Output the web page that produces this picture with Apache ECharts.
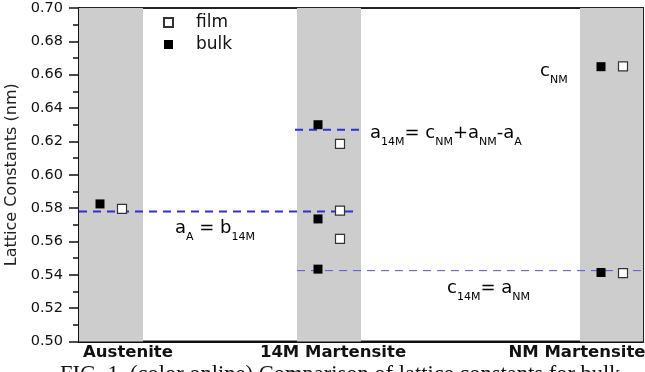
<!DOCTYPE html>
<html>
<head>
<meta charset="utf-8">
<script src="https://cdn.jsdelivr.net/npm/echarts@6/dist/echarts.min.js"></script>
<style>
  html, body { margin: 0; padding: 0; background: #fff; }
  #chart { width: 645px; height: 372px; }
</style>
</head>
<body>
<div id="chart"></div>
<script>
// Phases along the horizontal axis and where each sits on the x scale
const phases = ['Austenite', '14M Martensite', 'NM Martensite'];
const phaseCenter = [1.6, 12.5, 26.65];
const phaseLabelX = [2.45, 12.7, 24.9];

// Lattice constants (nm) per phase
const bulkValues = [[0.5825], [0.630, 0.5735, 0.5434], [0.6648, 0.5414]];
const filmValues = [[0.5795], [0.6185, 0.5785, 0.5616], [0.665, 0.541]];

// Reference relations drawn as dashed lines: [value, xStart, xEnd]
const relationLines = [
  [0.578, 0, 13.95],
  [0.627, 10.8, 14.2],
  [0.5425, 10.9, 28.2]
];

const yTicks = { min: 0.50, max: 0.70, step: 0.02 };

const SIDE_OFFSET = 0.55;   // bulk left of the phase centre, film right
const BAND_HALF = 1.6;      // half width of the grey phase bands
const X_MAX = 28.2;

const bulkData = [];
const filmData = [];
phases.forEach((p, i) => {
  bulkValues[i].forEach(v => bulkData.push([phaseCenter[i] - SIDE_OFFSET, v]));
  filmValues[i].forEach(v => filmData.push([phaseCenter[i] + SIDE_OFFSET, v]));
});

const bands = phaseCenter.map(c => [
  { xAxis: Math.max(0, c - BAND_HALF) },
  { xAxis: Math.min(X_MAX, c + BAND_HALF) }
]);

const lineStyles = [
  { color: '#2f2fd6', width: 2, type: [8, 6] },
  { color: '#2f2fd6', width: 2, type: [8, 6] },
  { color: '#5252ee', width: 1, type: [8, 6] }
];

const relationSeries = relationLines.map((r, i) => ({
  type: 'line',
  name: 'rel' + i,
  data: [[r[1], r[0]], [r[2], r[0]]],
  symbol: 'none',
  lineStyle: lineStyles[i],
  z: 3,
  silent: true
}));

const FONT = 'DejaVu Sans';
const rich = {
  m: { fontFamily: FONT, fontSize: 18, color: '#1a1a1a', verticalAlign: 'top', lineHeight: 24 },
  s: { fontFamily: FONT, fontSize: 11, color: '#1a1a1a', verticalAlign: 'bottom', lineHeight: 24 }
};
function note(left, top, text) {
  return { type: 'text', left: left, top: top, z: 10, style: { text: text, rich: rich } };
}

const chart = echarts.init(document.getElementById('chart'), null, { renderer: 'canvas' });
chart.setOption({
  animation: false,
  backgroundColor: '#ffffff',
  grid: {
    left: 79, right: 2, top: 8, bottom: 30.5,
    outerBoundsMode: 'none', containLabel: false,
    show: true, borderColor: '#222', borderWidth: 2, backgroundColor: 'transparent'
  },
  legend: {
    data: ['film', 'bulk'],
    orient: 'vertical',
    left: 158, top: 9,
    itemWidth: 9, itemHeight: 9, itemGap: 5,
    textStyle: { fontFamily: FONT, fontSize: 17, color: '#111', lineHeight: 16, padding: [0, 0, 0, 18] }
  },
  xAxis: {
    type: 'value', min: 0, max: X_MAX,
    splitLine: { show: false },
    axisLine: { lineStyle: { color: '#111', width: 2 } },
    axisTick: { show: false },
    axisLabel: {
      customValues: phaseLabelX,
      formatter: v => {
        const i = phaseLabelX.findIndex(x => Math.abs(x - v) < 1e-6);
        return i >= 0 ? phases[i] : '';
      },
      fontFamily: FONT, fontSize: 16.5, fontWeight: 'bold', color: '#111', margin: 3
    }
  },
  yAxis: {
    type: 'value', min: yTicks.min, max: yTicks.max, interval: yTicks.step,
    name: 'Lattice Constants (nm)', nameLocation: 'middle', nameGap: 48,
    nameTextStyle: { fontFamily: FONT, fontSize: 16, color: '#222' },
    splitLine: { show: false },
    axisLine: { lineStyle: { color: '#111', width: 2 } },
    axisTick: { inside: false, length: 10, lineStyle: { color: '#111', width: 1.5 } },
    minorTick: { show: true, splitNumber: 2, length: 6, lineStyle: { color: '#111', width: 1.5 } },
    axisLabel: {
      formatter: v => v.toFixed(2),
      fontFamily: FONT, fontSize: 14.5, color: '#111', margin: 16
    }
  },
  series: [
    {
      type: 'scatter', name: 'bands', data: [], z: 0, silent: true,
      markArea: { silent: true, itemStyle: { color: '#cdcdcd' }, data: bands }
    },
    ...relationSeries,
    {
      type: 'scatter', name: 'film', data: filmData, symbol: 'rect', symbolSize: 9, z: 5,
      itemStyle: { color: '#ffffff', borderColor: '#333', borderWidth: 1.2, opacity: 1 }
    },
    {
      type: 'scatter', name: 'bulk', data: bulkData, symbol: 'rect', symbolSize: 9, z: 5,
      itemStyle: { color: '#000000', opacity: 1 }
    }
  ],
  graphic: [
    note(175, 219, '{m|a}{s|A}{m| = b}{s|14M}'),
    note(370, 124, '{m|a}{s|14M}{m|= c}{s|NM}{m|+a}{s|NM}{m|-a}{s|A}'),
    note(447, 279, '{m|c}{s|14M}{m|= a}{s|NM}'),
    note(540, 62, '{m|c}{s|NM}'),
    {
      type: 'text', left: 60, top: 364, z: 10,
      style: {
        text: 'FIG. 1. (color online) Comparison of lattice constants for bulk',
        fontFamily: 'Liberation Serif', fontSize: 22.5, fill: '#111'
      }
    }
  ]
});
</script>
</body>
</html>
